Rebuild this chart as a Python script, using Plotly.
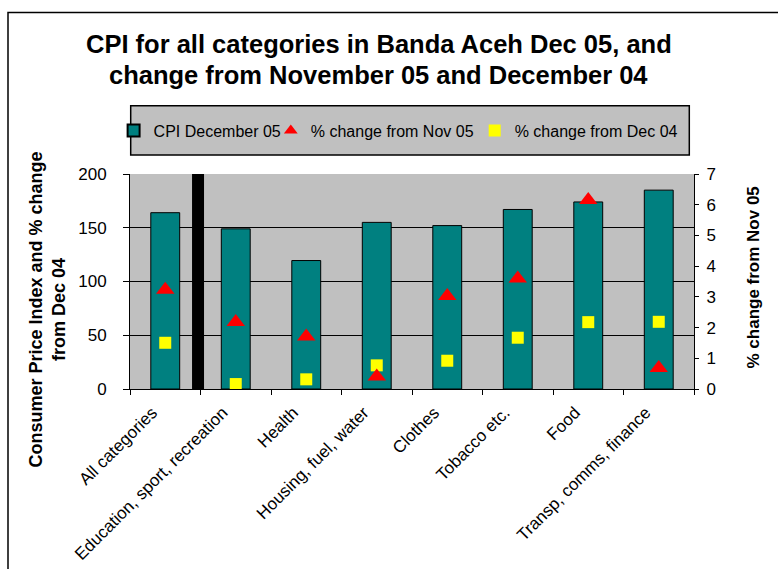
import plotly.graph_objects as go

# ---- data ----
categories = ["All categories", "Education, sport, recreation", "Health",
              "Housing, fuel, water", "Clothes", "Tobacco etc.", "Food",
              "Transp, comms, finance"]
cpi_dec05 = [164, 149, 119.5, 155, 152, 167, 174, 185]
pct_nov05 = [3.23, 2.18, 1.71, 0.41, 3.03, 3.60, 6.15, 0.68]
pct_dec04 = [43.0, 4.6, 9.0, 22.0, 26.3, 47.7, 62.2, 62.5]
# stray black bar that appears between the first two categories
stray_x = [0.465]
stray_value = [210]

left_ticks = [0, 50, 100, 150, 200]
right_ticks = [0, 1, 2, 3, 4, 5, 6, 7]

FONT = "Arial, Liberation Sans, sans-serif"
W, H = 778, 569
ML, MR, MT, MB = 130, 84, 174, 180
PW, PH = W - ML - MR, H - MT - MB


def px(xp):
    return (xp - ML) / PW


def py(yp):
    return (H - MB - yp) / PH


fig = go.Figure()
fig.add_trace(go.Bar(
    x=categories, y=cpi_dec05, name="CPI December 05",
    marker=dict(color="#008080", line=dict(color="black", width=1)),
    xaxis="x", yaxis="y", legend="legend"))
fig.add_trace(go.Bar(
    x=stray_x, y=stray_value, width=[0.17], showlegend=False,
    marker=dict(color="black", line=dict(width=0)),
    xaxis="x2", yaxis="y", hoverinfo="skip"))
fig.add_trace(go.Scatter(
    x=categories, y=pct_nov05, mode="markers", name="% change from Nov 05",
    marker=dict(symbol="triangle-up", size=16, color="#FF0000"),
    xaxis="x", yaxis="y2", legend="legend2"))
fig.add_trace(go.Scatter(
    x=categories, y=pct_dec04, mode="markers", name="% change from Dec 04",
    marker=dict(symbol="square", size=12, color="#FFFF00"),
    xaxis="x", yaxis="y", legend="legend3"))

legend_common = dict(orientation="h", xanchor="left", yanchor="middle",
                     y=py(130.7), bgcolor="rgba(0,0,0,0)",
                     font=dict(size=16, family=FONT), itemsizing="constant",
                     itemwidth=30)

fig.update_layout(
    width=W, height=H,
    margin=dict(l=ML, r=MR, t=MT, b=MB, autoexpand=False),
    paper_bgcolor="white", plot_bgcolor="#C0C0C0",
    font=dict(family=FONT, color="black", size=16),
    bargap=0.59,
    showlegend=True,
    legend=dict(x=px(113.6), **legend_common),
    legend2=dict(x=px(270.8), **legend_common),
    legend3=dict(x=px(474.7), **legend_common),
    xaxis=dict(type="category", range=[-0.5, 7.5], tickson="boundaries",
               ticks="outside", ticklen=5, tickcolor="black", showline=True,
               linecolor="black", linewidth=1, tickangle=-45,
               tickfont=dict(size=17), ticklabelshift=-13,
               ticklabelstandoff=6, showgrid=False, automargin=False),
    xaxis2=dict(overlaying="x", range=[-0.5, 7.5], visible=False),
    yaxis=dict(range=[0, 200], tickvals=left_ticks, ticks="outside", ticklen=6,
               tickcolor="black", showline=True, linecolor="black",
               showgrid=True, gridcolor="black", gridwidth=1, zeroline=False,
               tickfont=dict(size=17), ticklabelstandoff=13, automargin=False),
    yaxis2=dict(overlaying="y", side="right", range=[0, 7],
                tickvals=right_ticks, ticks="outside", ticklen=4,
                tickcolor="black", showline=True, linecolor="black",
                showgrid=False, zeroline=False, tickfont=dict(size=17),
                ticklabelstandoff=4, automargin=False),
)

shapes = [
    # outer chart border
    dict(type="rect", xref="paper", yref="paper", x0=px(8), x1=1.3,
         y0=-1.2, y1=py(12.5), line=dict(color="black", width=1.5),
         fillcolor="rgba(0,0,0,0)", layer="below"),
    # legend box
    dict(type="rect", xref="paper", yref="paper", x0=px(130.7), x1=px(689.3),
         y0=py(155), y1=py(105.7), line=dict(color="black", width=1.5),
         fillcolor="#C0C0C0", layer="below"),
]
fig.update_layout(shapes=shapes)

annotations = [
    dict(text="<b>CPI for all categories in Banda Aceh Dec 05, and</b>",
         xref="paper", yref="paper", x=px(378.5), y=py(44), xanchor="center",
         yanchor="middle", showarrow=False, font=dict(size=25.5, family=FONT)),
    dict(text="<b>change from November 05 and December 04</b>",
         xref="paper", yref="paper", x=px(378.5), y=py(75), xanchor="center",
         yanchor="middle", showarrow=False, font=dict(size=25.5, family=FONT)),
    dict(text="<b>Consumer Price Index and % change<br>from Dec 04</b>",
         xref="paper", yref="paper", x=px(46.5), y=py(310), xanchor="center",
         yanchor="middle", textangle=-90, showarrow=False,
         font=dict(size=18, family=FONT)),
    dict(text="<b>% change from Nov 05</b>",
         xref="paper", yref="paper", x=px(753), y=py(277.5), xanchor="center",
         yanchor="middle", textangle=-90, showarrow=False,
         font=dict(size=17, family=FONT)),
]
fig.update_layout(annotations=annotations)

fig.write_html("out.html")
